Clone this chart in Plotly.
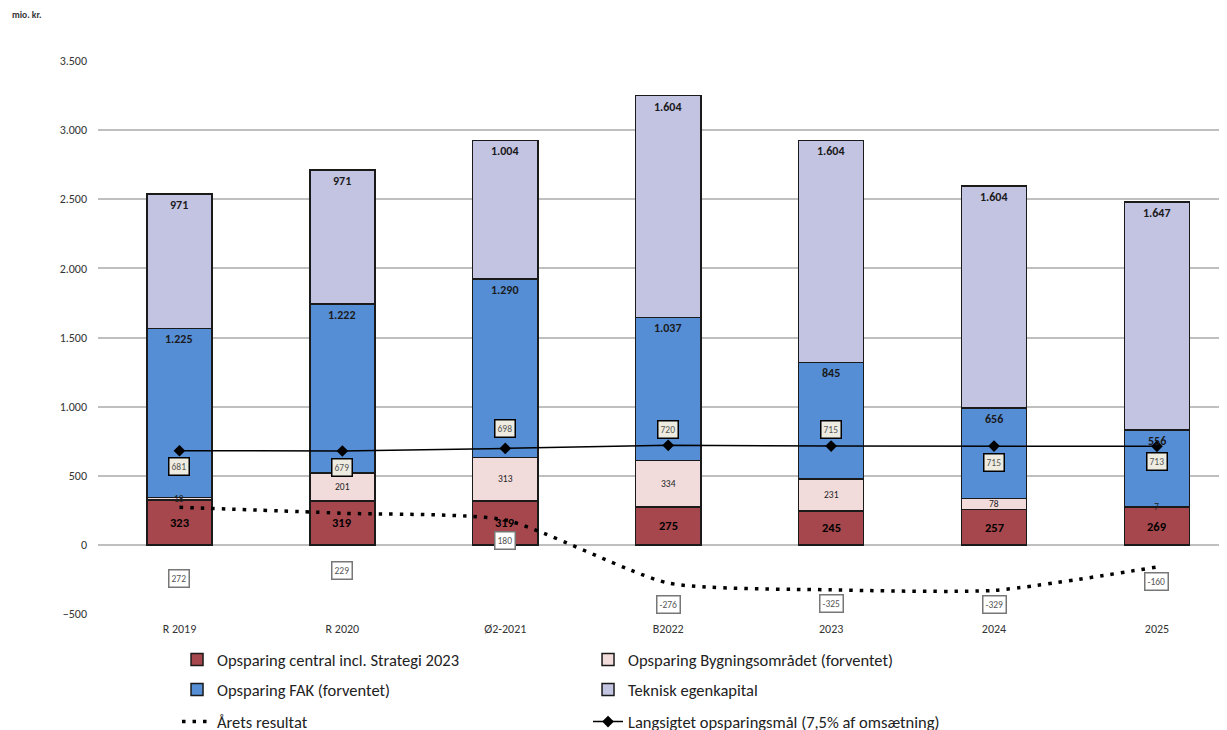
import plotly.graph_objects as go
import numpy as np

categories = ["R 2019", "R 2020", "Ø2-2021", "B2022", "2023", "2024", "2025"]
central = [323, 319, 319, 275, 245, 257, 269]
bygning = [18, 201, 313, 334, 231, 78, 7]
fak = [1225, 1222, 1290, 1037, 845, 656, 556]
teknisk = [971, 971, 1004, 1604, 1604, 1604, 1647]
aarets_resultat = [272, 229, 180, -276, -325, -329, -160]
langsigtet = [681, 679, 698, 720, 715, 715, 713]

names = ["Opsparing central incl. Strategi 2023", "Opsparing Bygningsområdet (forventet)",
         "Opsparing FAK (forventet)", "Teknisk egenkapital",
         "Årets resultat", "Langsigtet opsparingsmål (7,5% af omsætning)"]
colors = ["#A5474C", "#F2DCDB", "#558ED5", "#C3C3E2"]

FONT = "Carlito, Lato, sans-serif"

def fmt(v):
    return f"{v:,}".replace(",", ".")

fig = go.Figure()
series = [central, bygning, fak, teknisk]
legends = ["legend", "legend", "legend2", "legend2"]
for vals, nm, col, lg in zip(series, names[:4], colors, legends):
    fig.add_trace(go.Bar(x=categories, y=vals, name=nm, width=0.4,
                         marker=dict(color=col, line=dict(color="#1a1a1a", width=1.5)),
                         legend=lg))

fig.add_trace(go.Scatter(x=categories, y=aarets_resultat, name=names[4], mode="lines",
                         line=dict(color="black", width=3.5, dash="3.5px,7px", shape="spline", smoothing=0.6),
                         legend="legend3"))
fig.add_trace(go.Scatter(x=categories, y=langsigtet, name=names[5], mode="lines+markers",
                         line=dict(color="black", width=1.5),
                         marker=dict(symbol="diamond", size=9, color="black"),
                         legend="legend3"))

annotations = []
# bar labels (x given as category index on the category axis)
cum = np.zeros(len(categories))
for i, vals in enumerate(series):
    vals = np.array(vals)
    for j in range(len(categories)):
        base = cum[j]
        top = base + vals[j]
        if i == 0:
            annotations.append(dict(x=j, y=base + vals[j] / 2, text=f"<b>{fmt(int(vals[j]))}</b>",
                                    showarrow=False, font=dict(size=12.5, color="black", family=FONT)))
        elif i == 1:
            annotations.append(dict(x=j, y=base + vals[j] / 2, text=fmt(int(vals[j])),
                                    showarrow=False, font=dict(size=9.5, color="#222", family=FONT)))
        else:
            annotations.append(dict(x=j, y=top, yanchor="top", yshift=-2, text=f"<b>{fmt(int(vals[j]))}</b>",
                                    showarrow=False, font=dict(size=12, color="#1a1a1a", family=FONT)))
    cum = cum + vals

lang_shift = [-16, -16, 20, 16, 17, -16, -15]
for j, (v, s) in enumerate(zip(langsigtet, lang_shift)):
    annotations.append(dict(x=j, y=v, yshift=s, text=fmt(v), showarrow=False,
                            bgcolor="#EEECE1", bordercolor="black", borderwidth=1.5, borderpad=2,
                            font=dict(size=9.5, color="#555", family=FONT)))
res_shift = [-71, -57, -21, -21, -14, -14, -14]
for j, (v, s) in enumerate(zip(aarets_resultat, res_shift)):
    annotations.append(dict(x=j, y=v, yshift=s, text=fmt(v), showarrow=False,
                            bgcolor="white", bordercolor="#777", borderwidth=1.5, borderpad=2,
                            font=dict(size=9.5, color="#555", family=FONT)))

annotations.append(dict(xref="paper", yref="paper", x=-0.078, y=1.083, xanchor="left", yanchor="middle",
                        text="<b>mio. kr.</b>", showarrow=False,
                        font=dict(size=9.5, color="#333", family=FONT)))

leg_common = dict(orientation="h", xanchor="left", yanchor="middle", entrywidth=366,
                  entrywidthmode="pixels", font=dict(size=16.5, color="#222", family=FONT),
                  bgcolor="rgba(0,0,0,0)", traceorder="normal")

fig.update_layout(
    width=1227, height=730,
    barmode="stack",
    separators=",.",
    plot_bgcolor="white", paper_bgcolor="white",
    margin=dict(l=90, r=8, t=53, b=124, autoexpand=False),
    font=dict(family=FONT, color="#333"),
    annotations=annotations,
    legend=dict(x=0.07, y=-0.083, **leg_common),
    legend2=dict(x=0.07, y=-0.137, **leg_common),
    legend3=dict(x=0.07, y=-0.195, **leg_common),
    xaxis=dict(range=[-0.5, 6.43], showgrid=False, showline=False, ticks="",
               tickfont=dict(size=12, color="#333", family=FONT), ticklabelstandoff=6),
    yaxis=dict(range=[-500, 3500], tickvals=list(range(-500, 3501, 500)),
               tickformat=",d", showgrid=True, gridcolor="#BFBFBF", gridwidth=1.5,
               zeroline=True, zerolinecolor="#BFBFBF", zerolinewidth=1.5,
               showline=False, ticks="", tickfont=dict(size=12, color="#333", family=FONT),
               ticklabelstandoff=10),
    showlegend=True,
)

fig.write_html("out.html")
